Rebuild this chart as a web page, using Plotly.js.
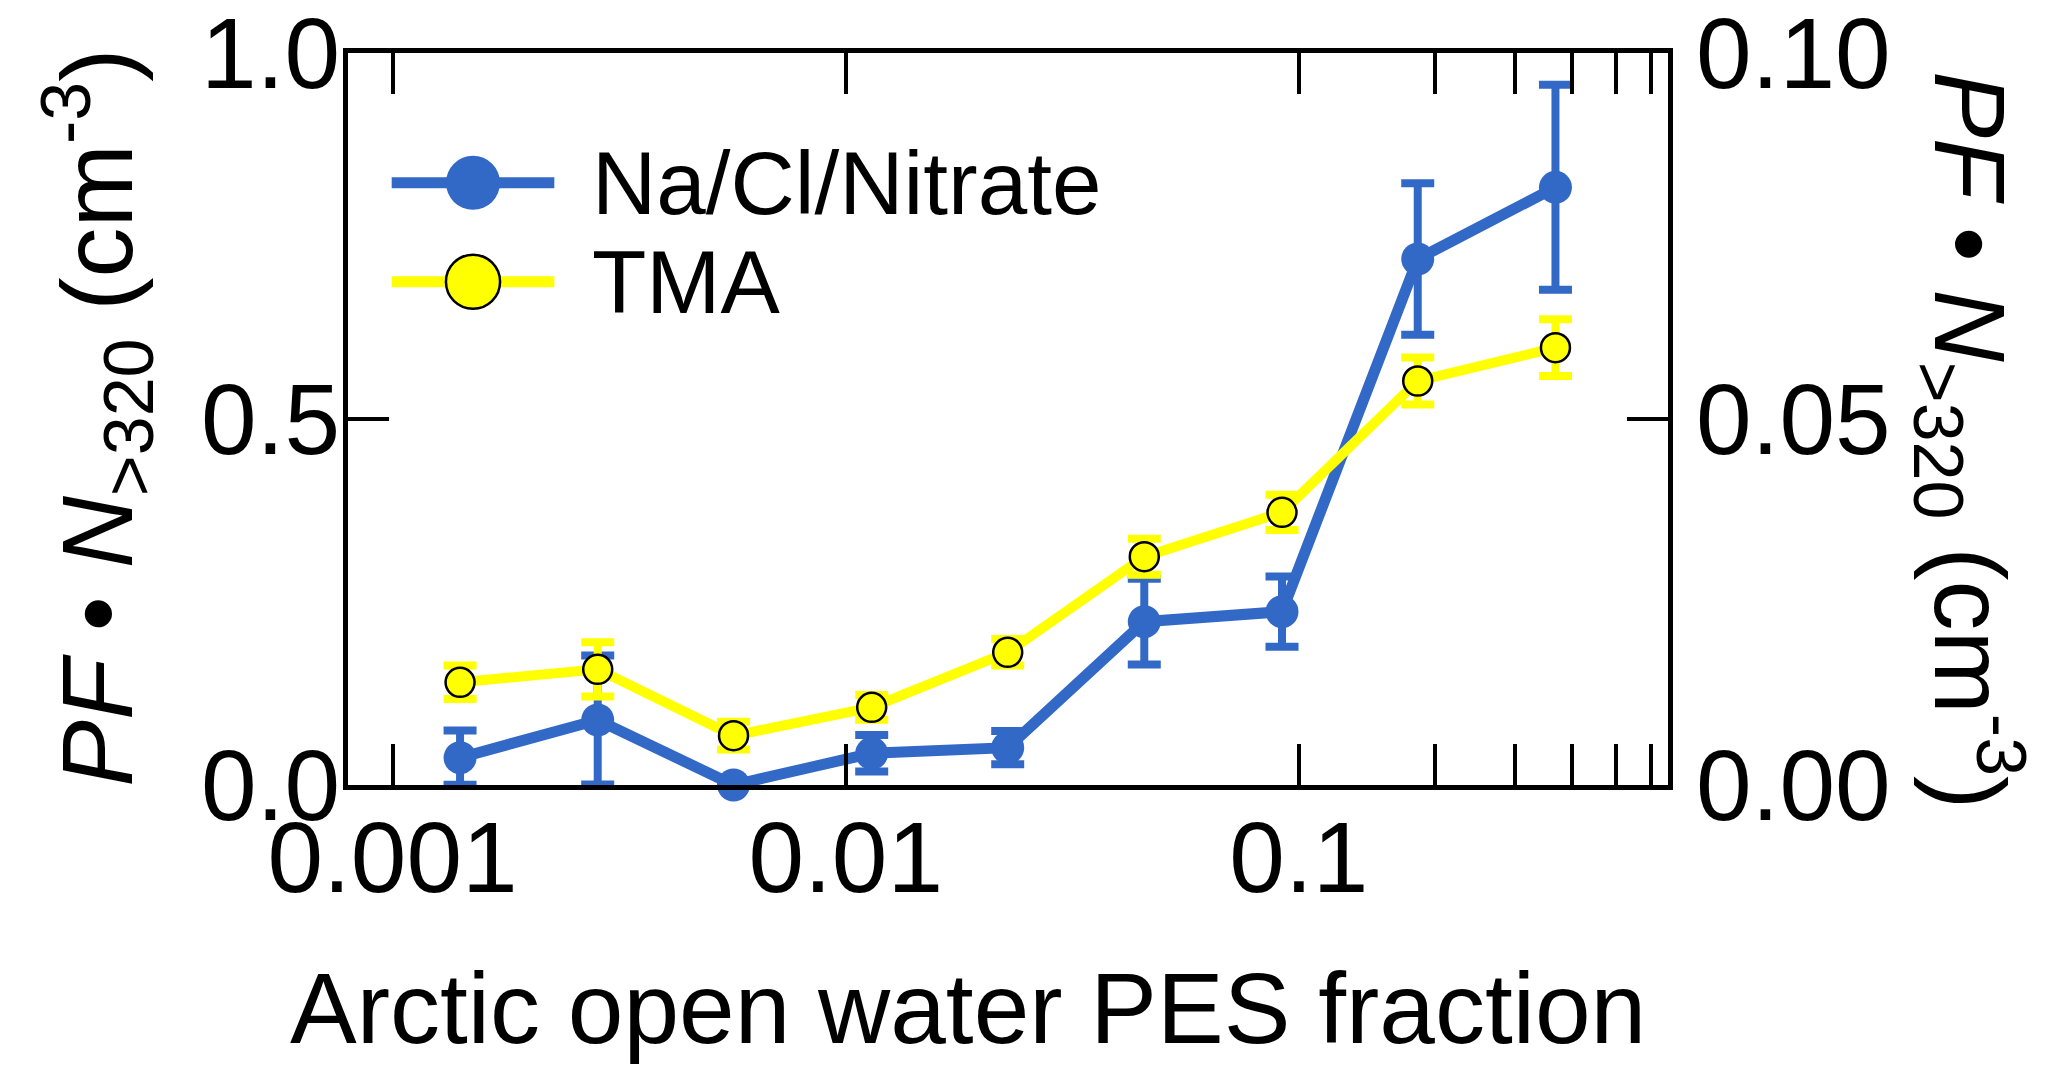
<!DOCTYPE html>
<html>
<head>
<meta charset="utf-8">
<script src="https://cdn.plot.ly/plotly-3.0.1.min.js"></script>
<style>
  html, body { margin: 0; padding: 0; background: #ffffff; }
  #graph { width: 2067px; height: 1085px; }
</style>
</head>
<body>
<div id="graph"></div>
<script>
// --- Data ---
const PES_FRACTION = [0.001409, 0.002836, 0.005655, 0.011413, 0.02278, 0.0456, 0.09182, 0.183, 0.3685];

const NACL_VALUE = [0.0373, 0.0888, 0.0, 0.0433, 0.051, 0.2231, 0.2368, 0.7186, 0.8165];
const NACL_ERR   = [0.037, 0.088, 0.0, 0.025, 0.0228, 0.0585, 0.048, 0.1034, 0.140];

const TMA_VALUE = [0.01403, 0.0158, 0.00674, 0.01061, 0.01813, 0.03119, 0.03725, 0.05519, 0.05974];
const TMA_ERR   = [0.00228, 0.0037, 0.0019, 0.0017, 0.0018, 0.00246, 0.0024, 0.0032, 0.00388];

const X_TICKS = [0.001, 0.01, 0.1, 0.2, 0.3, 0.4, 0.5, 0.6];
const X_TICK_TEXT = ['0.001', '0.01', '0.1', ' ', ' ', ' ', ' ', ' '];
const Y_TICKS = [0, 0.5, 1.0];
const Y_TICK_TEXT = ['0.0', '0.5', '1.0'];
const Y2_TICKS = [0, 0.05, 0.10];
const Y2_TICK_TEXT = ['0.00', '0.05', '0.10'];

const SERIES_NAMES = ['Na/Cl/Nitrate', 'TMA'];
const Y_TITLE = '<i>PF</i> • <i>N</i><sub>&gt;320</sub> (cm<sup>-3</sup>)';
const X_TITLE = 'Arctic open water PES fraction';

// --- Style ---
const FONT = 'Liberation Sans, Arial, Helvetica, sans-serif';
const BLUE = '#3369c6';
const YELLOW = '#ffff00';

function axisBase() {
  return {
    showline: true,
    linecolor: '#000',
    linewidth: 5,
    ticks: 'inside',
    ticklen: 41,
    tickwidth: 4,
    tickcolor: '#000',
    showgrid: false,
    zeroline: false,
    ticklabeloverflow: 'allow',
    tickfont: { family: FONT, size: 100, color: '#000' }
  };
}

function draw() {
  var naTrace = {
    x: PES_FRACTION,
    y: NACL_VALUE,
    name: SERIES_NAMES[0],
    type: 'scatter',
    mode: 'lines+markers',
    line: { color: BLUE, width: 11 },
    marker: { color: BLUE, size: 33 },
    error_y: { type: 'data', array: NACL_ERR, visible: true, color: BLUE, thickness: 8, width: 16.5 },
    yaxis: 'y',
    showlegend: false,
    cliponaxis: false
  };

  var tmaTrace = {
    x: PES_FRACTION,
    y: TMA_VALUE,
    name: SERIES_NAMES[1],
    type: 'scatter',
    mode: 'lines+markers',
    line: { color: YELLOW, width: 10 },
    marker: { color: YELLOW, size: 29, line: { color: '#000', width: 2.5 } },
    error_y: { type: 'data', array: TMA_ERR, visible: true, color: YELLOW, thickness: 8, width: 16.5 },
    yaxis: 'y2',
    showlegend: false
  };

  var xaxis = Object.assign(axisBase(), {
    type: 'log',
    range: [-3.0984, -0.1852],
    tickmode: 'array',
    tickvals: X_TICKS,
    ticktext: X_TICK_TEXT,
    mirror: 'ticks',
    ticklabelstandoff: -18
  });

  var yaxis = Object.assign(axisBase(), {
    range: [0, 1],
    tickmode: 'array',
    tickvals: Y_TICKS,
    ticktext: Y_TICK_TEXT,
    ticklabelstandoff: -17
  });

  var yaxis2 = Object.assign(axisBase(), {
    range: [0, 0.1],
    overlaying: 'y',
    side: 'right',
    tickmode: 'array',
    tickvals: Y2_TICKS,
    ticktext: Y2_TICK_TEXT,
    ticklabelstandoff: 3
  });

  // hand-drawn legend: long line sample with a large marker in the middle
  var legendRows = [
    { y: 0.8227, color: BLUE, outline: BLUE, outW: 0 },
    { y: 0.6876, color: YELLOW, outline: '#000', outW: 2.5 }
  ];
  var shapes = [];
  var annotations = [];
  legendRows.forEach(function (row, i) {
    shapes.push({
      type: 'line', xref: 'paper', yref: 'paper',
      x0: 0.0331, x1: 0.1563, y0: row.y, y1: row.y,
      line: { color: row.color, width: 11 }
    });
    shapes.push({
      type: 'circle', xref: 'paper', yref: 'paper',
      x0: 0.0742, x1: 0.1152, y0: row.y - 0.0369, y1: row.y + 0.0369,
      fillcolor: row.color,
      line: { color: row.outline, width: row.outW }
    });
    annotations.push({
      xref: 'paper', yref: 'paper', x: 0.1833, y: row.y,
      xanchor: 'left', yanchor: 'middle', showarrow: false,
      text: SERIES_NAMES[i],
      font: { family: FONT, size: 89, color: '#000' }
    });
  });

  annotations.push({
    xref: 'paper', yref: 'paper', x: 0.4697, y: -0.3045,
    xanchor: 'center', yanchor: 'middle', showarrow: false,
    text: X_TITLE,
    font: { family: FONT, size: 100, color: '#000' }
  });
  annotations.push({
    xref: 'paper', yref: 'paper', x: -0.190, y: 0.502,
    xanchor: 'center', yanchor: 'middle', showarrow: false,
    textangle: -90,
    text: Y_TITLE,
    font: { family: FONT, size: 100, color: '#000' }
  });
  annotations.push({
    xref: 'paper', yref: 'paper', x: 1.2288, y: 0.471,
    xanchor: 'center', yanchor: 'middle', showarrow: false,
    textangle: 90,
    text: Y_TITLE,
    font: { family: FONT, size: 100, color: '#000' }
  });

  var layout = {
    width: 2067,
    height: 1085,
    margin: { l: 348, r: 399, t: 53, b: 300 },
    paper_bgcolor: '#ffffff',
    plot_bgcolor: '#ffffff',
    showlegend: false,
    xaxis: xaxis,
    yaxis: yaxis,
    yaxis2: yaxis2,
    shapes: shapes,
    annotations: annotations
  };

  Plotly.newPlot('graph', [naTrace, tmaTrace], layout, { displayModeBar: false, staticPlot: true });
}

draw();
</script>
</body>
</html>
